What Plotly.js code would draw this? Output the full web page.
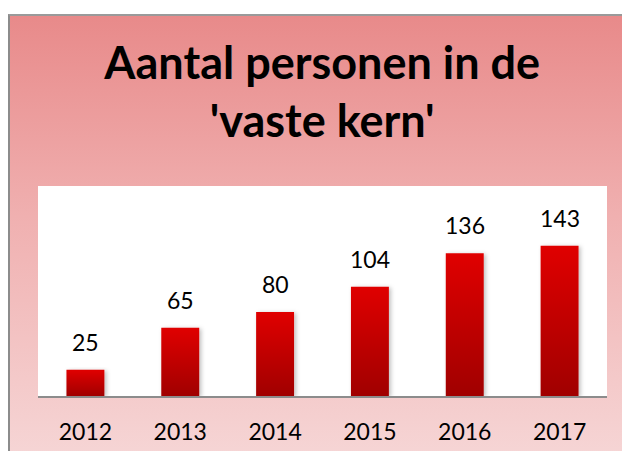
<!DOCTYPE html>
<html>
<head>
<meta charset="utf-8">
<script src="https://cdn.plot.ly/plotly-3.0.1.min.js"></script>
<style>
  html, body { margin:0; padding:0; background:#ffffff; width:622px; height:451px; overflow:hidden; }
  #bg { position:absolute; left:8px; top:14px; width:620px; height:445px;
        border-left:2px solid #8c8c8c; border-top:2px solid #9a9a9a;
        background: linear-gradient(to bottom, #e88a8a 0%, #f0b0b0 45%, #f6d6d6 100%); }
  #chart { position:absolute; left:0; top:0; width:622px; height:451px; }
</style>
</head>
<body>
<div id="bg"></div>
<div id="chart"></div>
<script>
const years = ['2012', '2013', '2014', '2015', '2016', '2017'];
const counts = [25, 65, 80, 104, 136, 143];
const titleText = "Aantal personen in de<br>'vaste kern'";

const trace = {
  type: 'bar',
  x: years,
  y: counts,
  marker: { color: '#c80000', line: { width: 0 } },
  hoverinfo: 'none'
};

const annotations = years.map((yr, i) => ({
  x: i, y: counts[i], xref: 'x', yref: 'y',
  text: String(counts[i]), showarrow: false,
  yanchor: 'bottom', yshift: 12,
  font: { family: 'Lato, "Open Sans", sans-serif', size: 23, color: '#000000' }
}));

const layout = {
  width: 622, height: 451,
  paper_bgcolor: 'rgba(0,0,0,0)',
  plot_bgcolor: '#ffffff',
  margin: { l: 38, r: 15, t: 186, b: 55, pad: 0 },
  bargap: 0.6,
  showlegend: false,
  title: {
    text: titleText,
    font: { family: 'Lato, "Open Sans", sans-serif', size: 45, color: '#000000', weight: 'bold' },
    xref: 'container', x: 0.518, xanchor: 'center',
    yref: 'container', y: 0.825, yanchor: 'top'
  },
  xaxis: {
    type: 'category',
    range: [-0.5, years.length - 0.5],
    autorange: false,
    showgrid: false, zeroline: false,
    showline: true, linecolor: '#8c8c8c', linewidth: 2,
    ticks: '', ticklabelstandoff: 14,
    tickfont: { family: 'Lato, "Open Sans", sans-serif', size: 23, color: '#000000' },
    fixedrange: true
  },
  yaxis: {
    range: [0, 200],
    visible: false, showgrid: false, zeroline: false,
    fixedrange: true
  },
  annotations: annotations
};

Plotly.newPlot('chart', [trace], layout, { staticPlot: true, displayModeBar: false }).then(gd => {
  const svg = gd.querySelector('svg.main-svg');
  const ns = 'http://www.w3.org/2000/svg';
  let defs = svg.querySelector('defs');
  if (!defs) { defs = document.createElementNS(ns, 'defs'); svg.insertBefore(defs, svg.firstChild); }
  const grad = document.createElementNS(ns, 'linearGradient');
  grad.setAttribute('id', 'barGrad');
  grad.setAttribute('x1', '0'); grad.setAttribute('y1', '0');
  grad.setAttribute('x2', '0'); grad.setAttribute('y2', '1');
  [['0%', '#e00000'], ['100%', '#a00000']].forEach(([o, c]) => {
    const s = document.createElementNS(ns, 'stop');
    s.setAttribute('offset', o); s.setAttribute('stop-color', c);
    grad.appendChild(s);
  });
  defs.appendChild(grad);
  const filt = document.createElementNS(ns, 'filter');
  filt.setAttribute('id', 'barShadow');
  filt.setAttribute('x', '-20%'); filt.setAttribute('y', '-10%');
  filt.setAttribute('width', '150%'); filt.setAttribute('height', '130%');
  const ds = document.createElementNS(ns, 'feDropShadow');
  ds.setAttribute('dx', '2'); ds.setAttribute('dy', '1');
  ds.setAttribute('stdDeviation', '2'); ds.setAttribute('flood-color', '#000000');
  ds.setAttribute('flood-opacity', '0.25');
  filt.appendChild(ds);
  defs.appendChild(filt);
  gd.querySelectorAll('.bars .point path').forEach(p => {
    p.style.fill = 'url(#barGrad)';
    p.setAttribute('filter', 'url(#barShadow)');
  });
});
</script>
</body>
</html>
